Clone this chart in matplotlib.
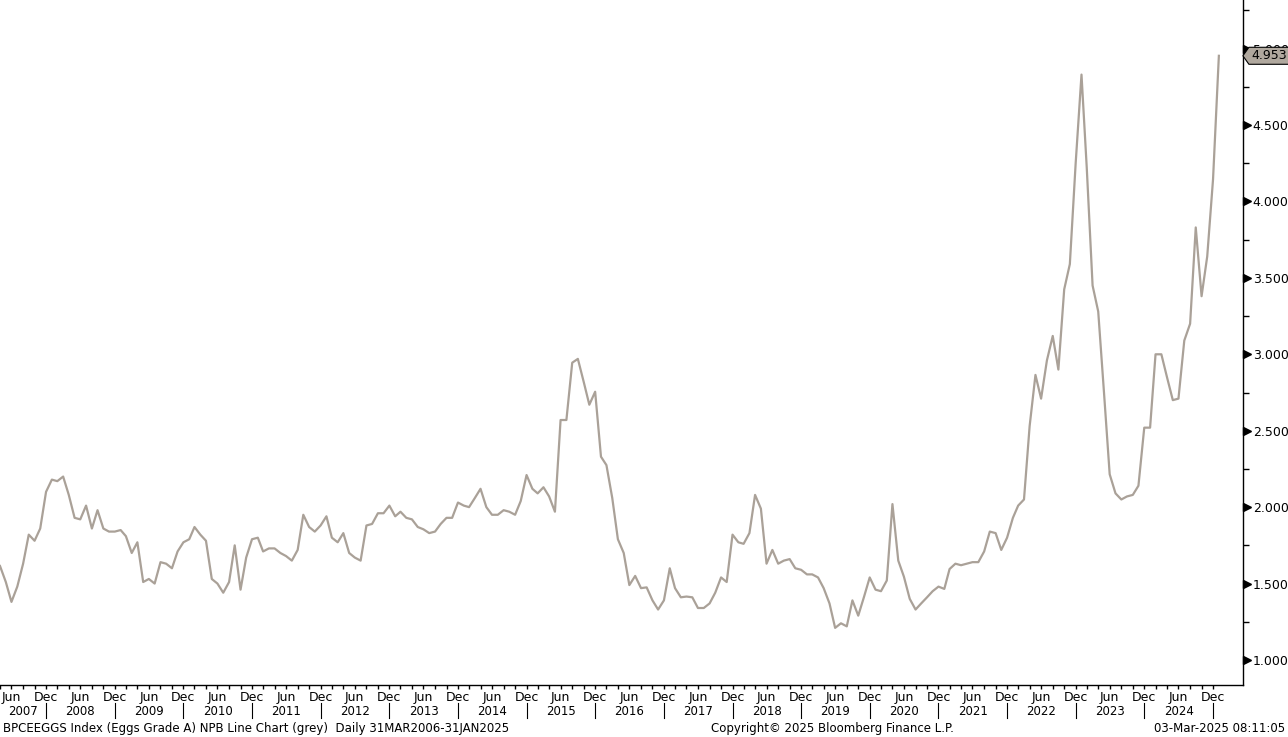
import numpy as np
import pandas as pd
import matplotlib
matplotlib.use("Agg")
import matplotlib.pyplot as plt
import matplotlib.dates as mdates
from matplotlib.patches import Polygon
from matplotlib.transforms import IdentityTransform
from matplotlib.ticker import MultipleLocator, FixedLocator, FuncFormatter

# Monthly egg prices (USD / dozen), month-end dates, Apr 2007 .. Jan 2025
P_2007 = [1.615, 1.51, 1.38, 1.48, 1.63, 1.82, 1.78, 1.86, 2.10]            # Apr-Dec
P_2008 = [2.18, 2.17, 2.20, 2.08, 1.93, 1.92, 2.01, 1.86, 1.98, 1.86, 1.84, 1.84]
P_2009 = [1.85, 1.81, 1.70, 1.77, 1.51, 1.53, 1.50, 1.64, 1.63, 1.60, 1.71, 1.77]
P_2010 = [1.79, 1.87, 1.82, 1.78, 1.53, 1.50, 1.44, 1.51, 1.75, 1.46, 1.67, 1.79]
P_2011 = [1.80, 1.71, 1.73, 1.73, 1.70, 1.68, 1.65, 1.72, 1.95, 1.87, 1.84, 1.88]
P_2012 = [1.94, 1.80, 1.77, 1.83, 1.70, 1.67, 1.65, 1.88, 1.89, 1.96, 1.96, 2.01]
P_2013 = [1.94, 1.97, 1.93, 1.92, 1.87, 1.855, 1.83, 1.84, 1.89, 1.93, 1.93, 2.03]
P_2014 = [2.01, 2.00, 2.06, 2.12, 2.00, 1.95, 1.95, 1.98, 1.97, 1.95, 2.04, 2.21]
P_2015 = [2.12, 2.09, 2.13, 2.07, 1.97, 2.57, 2.57, 2.945, 2.97, 2.82, 2.67, 2.755]
P_2016 = [2.33, 2.275, 2.06, 1.79, 1.70, 1.49, 1.55, 1.47, 1.475, 1.39, 1.33, 1.39]
P_2017 = [1.60, 1.47, 1.41, 1.415, 1.41, 1.34, 1.34, 1.37, 1.44, 1.54, 1.51, 1.82]
P_2018 = [1.77, 1.76, 1.83, 2.08, 1.99, 1.63, 1.72, 1.63, 1.65, 1.66, 1.60, 1.59]
P_2019 = [1.56, 1.56, 1.54, 1.47, 1.37, 1.21, 1.24, 1.22, 1.39, 1.29, 1.41, 1.54]
P_2020 = [1.46, 1.45, 1.52, 2.02, 1.65, 1.545, 1.40, 1.33, 1.37, 1.41, 1.45, 1.48]
P_2021 = [1.465, 1.595, 1.63, 1.62, 1.63, 1.64, 1.64, 1.71, 1.84, 1.83, 1.72, 1.80]
P_2022 = [1.93, 2.01, 2.05, 2.53, 2.865, 2.71, 2.96, 3.12, 2.90, 3.425, 3.59, 4.25]
P_2023 = [4.83, 4.22, 3.45, 3.28, 2.745, 2.215, 2.09, 2.05, 2.07, 2.08, 2.14, 2.52]
P_2024 = [2.52, 3.00, 3.00, 2.85, 2.70, 2.71, 3.09, 3.20, 3.83, 3.38, 3.64, 4.145]
P_2025 = [4.953]                                                          # Jan

PRICES = (P_2007 + P_2008 + P_2009 + P_2010 + P_2011 + P_2012 + P_2013 + P_2014
          + P_2015 + P_2016 + P_2017 + P_2018 + P_2019 + P_2020 + P_2021
          + P_2022 + P_2023 + P_2024 + P_2025)
START = "2007-04-30"
LAST_VALUE = "4.953"

FOOTER_LEFT = "BPCEEGGS Index (Eggs Grade A) NPB Line Chart (grey)  Daily 31MAR2006-31JAN2025"
FOOTER_MID = "Copyright\u00a9 2025 Bloomberg Finance L.P."
FOOTER_RIGHT = "03-Mar-2025 08:11:05"

LINE_COLOR = "#aaa198"
TAG_COLOR = "#b0a89e"

plt.rcParams["font.family"] = ["DejaVu Sans"]

dates = pd.date_range(START, periods=len(PRICES), freq="ME")
prices = np.array(PRICES)

fig = plt.figure(figsize=(12.88, 7.37), dpi=100)
ax = fig.add_axes([0.0, 0.0705, 0.965, 0.9295])

ax.plot(dates, prices, color=LINE_COLOR, lw=1.6, solid_joinstyle="round")

x_left = dates[0]
x_right = dates[-1] + pd.Timedelta(days=128)
ax.set_xlim(x_left, x_right)
ax.set_ylim(0.836, 5.318)

for side in ["top", "left"]:
    ax.spines[side].set_visible(False)
for side in ["right", "bottom"]:
    ax.spines[side].set_color("black")
    ax.spines[side].set_linewidth(1.0)

# y axis on the right, Bloomberg style
ax.yaxis.tick_right()
ax.yaxis.set_major_locator(MultipleLocator(0.5))
ax.yaxis.set_minor_locator(MultipleLocator(0.25))
ax.yaxis.set_major_formatter(FuncFormatter(lambda v, p: f"{v:.3f}"))
ax.tick_params(axis="y", which="major", length=0, pad=7, labelsize=9)
ax.tick_params(axis="y", which="minor", length=4, width=1, direction="out")

yt = np.arange(1.0, 5.01, 0.5)
ax.plot([1.0035] * len(yt), yt, transform=ax.get_yaxis_transform(),
        marker=">", ms=6, ls="none", color="black", clip_on=False)

# x axis: Jun / Dec labels plus year row
month_ticks = [d for d in dates if d.month in (6, 12)]
ax.xaxis.set_major_locator(FixedLocator(mdates.date2num(month_ticks)))
ax.xaxis.set_major_formatter(FuncFormatter(
    lambda v, p: mdates.num2date(v).strftime("%b")))
minor_ticks = [d for d in dates if d.month % 2 == 0 and d.month not in (6, 12)]
ax.xaxis.set_minor_locator(FixedLocator(mdates.date2num(minor_ticks)))
ax.tick_params(axis="x", which="both", length=3, width=1, direction="out",
               pad=1.5, labelsize=9)

xtr = ax.get_xaxis_transform()
decs = [d for d in dates if d.month == 12]
prev = x_left
for d in decs:
    ax.plot([d, d], [-0.026, -0.048], transform=xtr, color="black", lw=0.8,
            clip_on=False)
    mid = prev + (d - prev) / 2
    ax.text(mid, -0.038, str(d.year), transform=xtr, ha="center", va="center",
            fontsize=8.5)
    prev = d

# last value tag: pointed label at the right spine
tx, ty = ax.get_yaxis_transform().transform((1.0, prices[-1]))
tag = Polygon([(tx, ty), (tx + 6, ty + 8.5), (tx + 60, ty + 8.5),
               (tx + 60, ty - 8.5), (tx + 6, ty - 8.5)], closed=True,
              fc=TAG_COLOR, ec="black", lw=0.8, transform=IdentityTransform(),
              clip_on=False, zorder=5)
ax.add_artist(tag)
ax.annotate(LAST_VALUE, xy=(1.0, prices[-1]), xycoords=ax.get_yaxis_transform(),
            xytext=(6, 0), textcoords="offset points", ha="left", va="center",
            fontsize=9, annotation_clip=False, zorder=6)

fig.text(0.002, 0.012, FOOTER_LEFT, fontsize=8.5, ha="left", va="center")
fig.text(0.552, 0.012, FOOTER_MID, fontsize=8.5, ha="left", va="center")
fig.text(0.998, 0.012, FOOTER_RIGHT, fontsize=8.5, ha="right", va="center")

fig.savefig("out.png", dpi=100)
